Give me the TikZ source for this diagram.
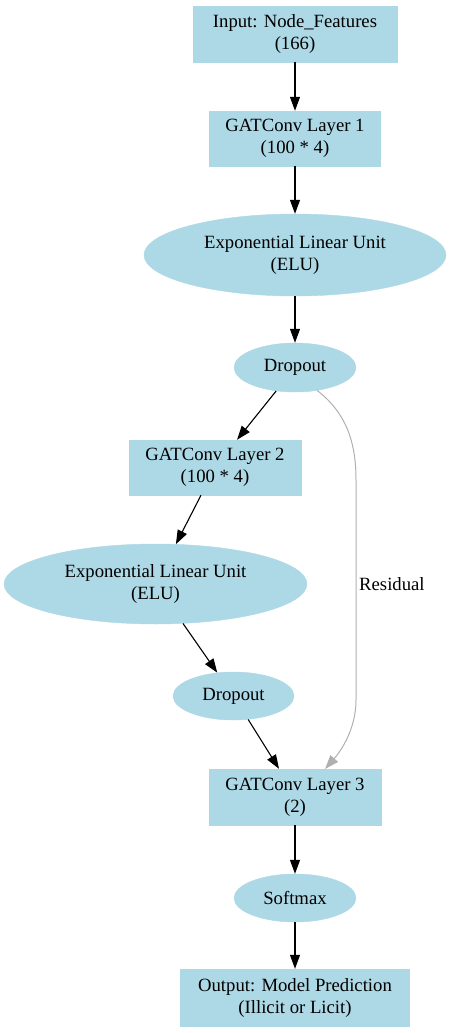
\documentclass[tikz,border=0pt]{standalone}
\usepackage{fontspec}
\setmainfont{Liberation Serif}
\usetikzlibrary{shapes.geometric,arrows.meta}
\definecolor{lb}{HTML}{ADD8E6}
\definecolor{resgray}{HTML}{B0B0B0}
\begin{document}
\begin{tikzpicture}[x=1pt,y=-1pt,
  every node/.style={font=\fontsize{18.7}{22}\selectfont, align=center, inner sep=0pt},
  box/.style={rectangle, fill=lb, draw=lb},
  oval/.style={ellipse, fill=lb, draw=lb},
  arr/.style={-{Triangle[length=14pt,width=10pt]}, line width=1.1pt},
  resarr/.style={-{Triangle[length=14pt,width=10pt]}, draw=resgray, line width=1pt}]
\useasboundingbox (0,0) rectangle (452,1033);
\node[box, minimum width=204, minimum height=56] (in) at (295,34) {Input: Node\_Features\\(166)};
\node[box, minimum width=171, minimum height=55] (g1) at (295,138.5) {GATConv Layer 1\\(100 * 4)};
\node[oval, minimum width=302, minimum height=82] (e1) at (295,255) {Exponential Linear Unit\\(ELU)};
\node[oval, minimum width=122, minimum height=49] (d1) at (295,367.5) {Dropout};
\node[box, minimum width=172, minimum height=55] (g2) at (215,467.5) {GATConv Layer 2\\(100 * 4)};
\node[oval, minimum width=303, minimum height=80] (e2) at (155.5,584) {Exponential Linear Unit\\(ELU)};
\node[oval, minimum width=121, minimum height=48] (d2) at (233.5,696) {Dropout};
\node[box, minimum width=172, minimum height=56] (g3) at (295,797) {GATConv Layer 3\\(2)};
\node[oval, minimum width=122, minimum height=48] (sm) at (295,898) {Softmax};
\node[box, minimum width=229, minimum height=57] (out) at (295,997.5) {Output: Model Prediction\\(Illicit or Licit)};
\coordinate (g3r) at (325,769);
\node[anchor=west] (rl) at (359,584) {Residual};
\draw[arr] (in) -- (g1);
\draw[arr] (g1) -- (e1);
\draw[arr] (e1) -- (d1);
\draw[arr] (d1) -- (g2.north -| 237,0);
\draw[arr] (g2.south -| 201,0) -- (e2);
\draw[arr] (e2) -- (d2);
\draw[arr] (d2) -- (g3.north -| 279,0);
\draw[arr] (g3) -- (sm);
\draw[arr] (sm) -- (out);
\draw[resarr] (d1.-46) .. controls (345,412) and (356,440) .. (356,480)
  -- (356,700)
  .. controls (356,730) and (340,752) .. (g3r);
\end{tikzpicture}
\end{document}
